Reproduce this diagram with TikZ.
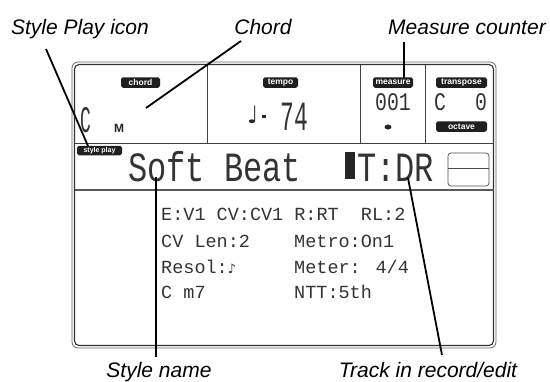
\documentclass[tikz,border=0pt]{standalone}
\usepackage{fontspec}
\setmainfont{Liberation Sans}
\newfontfamily\lcd{Liberation Mono}
\newfontfamily\sym{DejaVu Sans}
\begin{document}
\begin{tikzpicture}[x=1pt,y=-1pt,
  lbl/.style={fill=black!88, rounded corners=1.8pt, text=white, inner sep=0pt,
    minimum height=10.5, font=\bfseries\fontsize{8.5}{8.5}\selectfont},
  call/.style={font=\itshape\fontsize{21}{21}\selectfont, inner sep=0pt},
  lcdtxt/.style={text=black!80, inner sep=0pt, anchor=base west},
  conn/.style={line width=1.8pt, black},
  div/.style={line width=0.9pt, black!75}]
\useasboundingbox (0,0) rectangle (550,381);
% frame
\draw[line width=0.8pt, black!60, rounded corners=6pt] (72,62) rectangle (496,348);
\draw[line width=1.1pt, black!80, rounded corners=4.5pt] (74.5,64.5) rectangle (493.5,345.5);
% dividers
\draw[div] (207,64.5) -- (207,143.5);
\draw[div] (360,64.5) -- (360,143.5);
\draw[div] (425,64.5) -- (425,143.5);
\draw[div] (74.5,143.5) -- (493.5,143.5);
\draw[line width=2.6pt, black!65] (74.5,190) -- (493.5,190);
% labels
\node[lbl, minimum width=39] (chordlbl) at (140.5,82.5) {chord};
\node[lbl, minimum width=35] (tempolbl) at (280.5,82.5) {tempo};
\node[lbl, minimum width=40] (measlbl) at (393,82.5) {measure};
\node[lbl, minimum width=51] (translbl) at (461.5,82.5) {transpose};
\node[lbl, minimum width=51] (octlbl) at (461.5,126.5) {octave};
\node[lbl, minimum width=45, minimum height=9.5, font=\bfseries\fontsize{7}{7}\selectfont] (spl) at (99.5,150.5) {style play};
% LCD content
\node[lcdtxt, font=\lcd\fontsize{30}{30}\selectfont] (chordval) at (80,132) {\scalebox{0.6}[1.25]{C}};
\node[inner sep=0pt, anchor=base west, font=\bfseries\fontsize{12}{12}\selectfont, text=black!85] (chordtype) at (114,132) {M};
\node[inner sep=0pt, anchor=base west, font=\sym\fontsize{24}{24}\selectfont, text=black!85] (note) at (247,123) {♩};
\fill[black!85] (262,115) rectangle (266,118);
\node[lcdtxt, font=\lcd\fontsize{32}{32}\selectfont] (tempoval) at (280,130) {\scalebox{0.72}[1.3]{74}};
\node[lcdtxt, font=\lcd\fontsize{22}{22}\selectfont] (measval) at (375,110) {\scalebox{0.9}[1.15]{001}};
\fill[black!85] (388,127) ellipse (3.5 and 2.5);
\node[lcdtxt, font=\lcd\fontsize{22}{22}\selectfont] (transval) at (434,110) {\scalebox{0.9}[1.15]{C}};
\node[lcdtxt, font=\lcd\fontsize{22}{22}\selectfont] (octval) at (475,110) {\scalebox{0.9}[1.15]{0}};
\node[lcdtxt, font=\lcd\fontsize{32}{32}\selectfont] (stylename) at (128,181) {\scalebox{1}[1.3]{Soft Beat}};
\fill[black!85] (345,152) rectangle (355,179);
\node[lcdtxt, font=\lcd\fontsize{32}{32}\selectfont] (track) at (357,181) {\scalebox{1}[1.3]{T:DR}};
\draw[line width=0.7pt, black!70, rounded corners=3pt] (448,153) rectangle (489,186);
\draw[line width=0.7pt, black!70] (448,168) -- (489,168);
% parameter rows
\begin{scope}[every node/.style={lcdtxt, font=\lcd\fontsize{18.5}{18.5}\selectfont}]
\node (r1a) at (161,220) {E:V1 CV:CV1 R:RT~~RL:2};
\node (r2a) at (161,247) {CV Len:2};
\node (r2b) at (294,247) {Metro:On1};
\node (r3a) at (161,273) {Resol:\hbox{\sym\fontsize{13}{13}\selectfont ♪}};
\node (r3b) at (294,273) {Meter: 4/4};
\node (r4a) at (161,298) {C m7};
\node (r4b) at (294,298) {NTT:5th};
\end{scope}
% callouts
\node[call, anchor=base] (c1) at (80,34) {Style Play icon};
\node[call, anchor=base] (c2) at (263,34) {Chord};
\node[call, anchor=base] (c3) at (467,34) {Measure counter};
\node[call, anchor=base] (c4) at (159,377) {Style name};
\node[call, anchor=base] (c5) at (428,377) {Track in record/edit};
\coordinate (p1) at (46,49);
\coordinate (q1) at (88,146);
\coordinate (p2) at (241,41);
\coordinate (q2) at (146,108);
\coordinate (p3) at (404,42);
\coordinate (q3) at (404,78);
\coordinate (p4) at (156,357);
\coordinate (q4) at (156,177);
\coordinate (p5) at (442,355);
\coordinate (q5) at (408,178);
\draw[conn] (p1) -- (q1);
\draw[conn] (p2) -- (q2);
\draw[conn] (p3) -- (q3);
\draw[conn] (p4) -- (q4);
\draw[conn] (p5) -- (q5);
\end{tikzpicture}
\end{document}
